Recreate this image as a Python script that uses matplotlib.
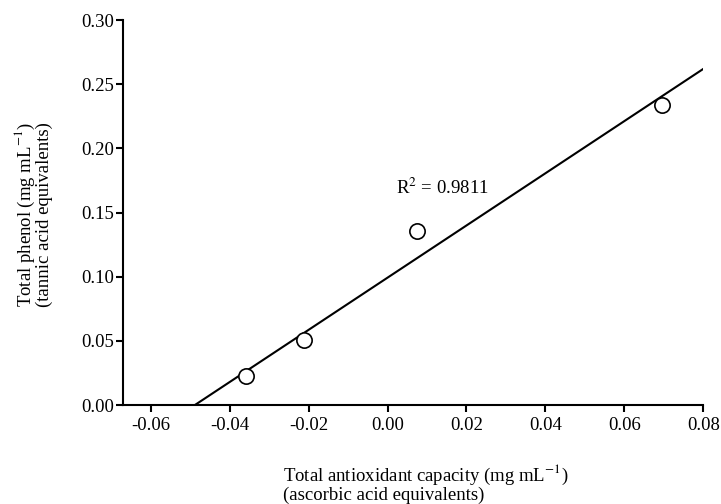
import matplotlib
matplotlib.use("Agg")
import matplotlib.pyplot as plt

# data
tac = [-0.0359, -0.0211, 0.0075, 0.0695]      # total antioxidant capacity
phenol = [0.0228, 0.0507, 0.1356, 0.2338]     # total phenol
fit_x = [-0.0488, 0.08]                        # regression line ends
fit_y = [0.0, 0.2619]
r2_text = "R$^2$ = 0.9811"

xticks = [-0.06, -0.04, -0.02, 0.00, 0.02, 0.04, 0.06, 0.08]
yticks = [0.00, 0.05, 0.10, 0.15, 0.20, 0.25, 0.30]

plt.rcParams['font.family'] = ['Liberation Serif', 'DejaVu Serif']
plt.rcParams['mathtext.fontset'] = 'stix'
plt.rcParams['font.size'] = 13.5

fig = plt.figure(figsize=(7.21, 5.04), dpi=100)
ax = fig.add_axes([122.7 / 721, 99 / 504, 580.6 / 721, 385 / 504])

ax.plot(fit_x, fit_y, "-k", lw=1.5, zorder=2)
ax.plot(tac, phenol, "o", ms=11, mfc="white", mec="black", mew=1.2,
        zorder=3, clip_on=False)

ax.text(0.0022, 0.169, r2_text, fontsize=13.5, va="center", ha="left")

ax.set_xlim(-0.0671, 0.08)
ax.set_ylim(0.0, 0.30)
ax.set_xticks(xticks)
ax.set_yticks(yticks)
ax.set_xticklabels(["%.2f" % v for v in xticks])
ax.set_yticklabels(["%.2f" % v for v in yticks])

for s in ["top", "right"]:
    ax.spines[s].set_visible(False)
for s in ["left", "bottom"]:
    ax.spines[s].set_linewidth(1.5)
ax.tick_params(direction="out", length=5, width=1.5, labelsize=13.5)
ax.tick_params(axis="y", pad=1)
ax.tick_params(axis="x", pad=4)

fig.text(283 / 721, 1 - 463 / 504,
         "Total antioxidant capacity (mg mL$^{-1}$)\n(ascorbic acid equivalents)",
         ha="left", va="top", multialignment="left", fontsize=13.5,
         linespacing=0.95)
fig.text(33 / 721, 1 - 307 / 504,
         "Total phenol (mg mL$^{-1}$)\n(tannic acid equivalents)",
         ha="center", va="bottom", rotation=90, multialignment="left",
         fontsize=13.5, linespacing=0.95)

fig.savefig("out.png", dpi=100)
